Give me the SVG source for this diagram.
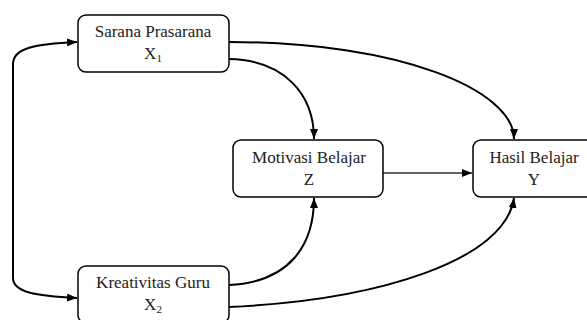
<svg xmlns="http://www.w3.org/2000/svg" width="587" height="320" viewBox="0 0 587 320">
<style>
.box{fill:#fff;stroke:#000;stroke-width:1.5}
.t{font-family:"Liberation Serif","Times New Roman",serif;font-size:17px;fill:#222;text-anchor:middle}
.sub{font-size:11px}
.c{fill:none;stroke:#000;stroke-width:2}
.s{fill:none;stroke:#333;stroke-width:1.3}
</style>
<defs>
<marker id="ah" viewBox="0 0 10 8" refX="10" refY="4" markerWidth="10" markerHeight="8" markerUnits="userSpaceOnUse" orient="auto-start-reverse">
<path d="M0,0 L10,4 L0,8 Z" fill="#000"/>
</marker>
</defs>
<rect width="587" height="320" fill="#fff"/>
<g id="connectors">
<path class="c" d="M77,42 C 35,44 13,48 13,64 L 13,278 C 13,292 35,296 77,298" marker-start="url(#ah)" marker-end="url(#ah)"/>
<path class="c" d="M229,59 C 285,60 314,95 314,139" marker-end="url(#ah)"/>
<path class="c" d="M229,42 C 400,42 514,90 514,139" marker-end="url(#ah)"/>
<path class="s" d="M380,173 L 472,173" marker-end="url(#ah)"/>
<path class="c" d="M229,285 C 290,282 314,245 314,198" marker-end="url(#ah)"/>
<path class="c" d="M229,307 C 380,300 505,260 514,198" marker-end="url(#ah)"/>
</g>
<g id="x1">
<rect class="box" x="78" y="15" width="151" height="57" rx="8"/>
<text class="t" x="153" y="37">Sarana Prasarana</text>
<text class="t" x="153" y="59">X<tspan class="sub" dy="3">1</tspan></text>
</g>
<g id="x2">
<rect class="box" x="78" y="266" width="151" height="57" rx="8"/>
<text class="t" x="153" y="288">Kreativitas Guru</text>
<text class="t" x="153" y="310">X<tspan class="sub" dy="3">2</tspan></text>
</g>
<g id="z">
<rect class="box" x="233" y="140" width="150" height="57" rx="8"/>
<text class="t" x="309" y="163">Motivasi Belajar</text>
<text class="t" x="309" y="185">Z</text>
</g>
<g id="y">
<rect class="box" x="473" y="140" width="150" height="57" rx="8"/>
<text class="t" x="534" y="163">Hasil Belajar</text>
<text class="t" x="534" y="185">Y</text>
</g>
</svg>
